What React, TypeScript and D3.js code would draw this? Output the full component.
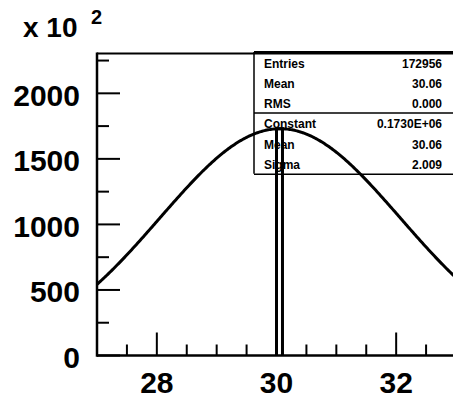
import React from "react";
import { scaleLinear, line, range } from "d3";

// histogram: one filled bin (units of x10^2 entries)
const binLow = [30.0];
const binHigh = [30.1];
const binCounts = [1729.56];

// gaussian fit parameters as printed in the stats box
const fitConstant = 1730; // 0.1730E+06 / 10^2
const fitMean = 30.06;
const fitSigma = 2.009;

const xMajorTicks = [28, 30, 32];
const xMinorTicks = [27.5, 28.5, 29, 29.5, 30.5, 31, 31.5, 32.5, 33];
const yMajorTicks = [0, 500, 1000, 1500, 2000];
const yMinorTicks = [250, 750, 1250, 1750, 2250];

const statsLabels = ["Entries", "Mean", "RMS", "Constant", "Mean", "Sigma"];
const statsValues = ["172956", "30.06", "0.000", "0.1730E+06", "30.06", "2.009"];

const FONT = "'Liberation Sans', Arial, Helvetica, sans-serif";

export default function App() {
  const W = 453;
  const H = 403;
  const LEFT = 97;
  const RIGHT = 456;
  const TOP = 54;
  const BOTTOM = 355.5;

  const x = scaleLinear().domain([27, 33]).range([LEFT, RIGHT]);
  const y = scaleLinear().domain([0, 2300]).range([BOTTOM, TOP]);

  const gauss = (v: number) =>
    fitConstant * Math.exp(-0.5 * Math.pow((v - fitMean) / fitSigma, 2));

  const curveX = range(27, 33.001, 0.02);
  const curve = line<number>()
    .x(d => x(d))
    .y(d => y(gauss(d)));

  const rowH = 20.3;
  const boxTop = 52;
  const boxLeft = 254;
  const boxRight = 456;

  return (
    <svg
      width={W}
      height={H}
      style={{ position: "fixed", left: 0, top: 0, background: "#fff" }}
      fontFamily={FONT}
      fontWeight="bold"
    >
      <defs>
        <clipPath id="plot">
          <rect x={LEFT} y={TOP} width={RIGHT - LEFT} height={BOTTOM - TOP} />
        </clipPath>
      </defs>
      <rect width={W} height={H} fill="#fff" />

      {/* histogram bins */}
      {binCounts.map((c, i) => (
        <path
          key={i}
          d={`M${x(binLow[i])},${y(0)}V${y(c)}H${x(binHigh[i])}V${y(0)}`}
          fill="none"
          stroke="#000"
          strokeWidth={3}
        />
      ))}

      {/* stats box */}
      <g>
        <line x1={boxLeft} x2={boxRight} y1={boxTop} y2={boxTop} stroke="#000" strokeWidth={2} />
        <line x1={boxLeft} x2={boxLeft} y1={boxTop} y2={boxTop + rowH * 6} stroke="#000" strokeWidth={1.5} />
        <line x1={boxLeft} x2={boxRight} y1={boxTop + rowH * 3} y2={boxTop + rowH * 3} stroke="#000" strokeWidth={1.5} />
        <line x1={boxLeft} x2={boxRight} y1={boxTop + rowH * 6 + 0.5} y2={boxTop + rowH * 6 + 0.5} stroke="#000" strokeWidth={1.5} />
        {statsLabels.map((s, i) => (
          <g key={i} fontSize={12}>
            <text x={264} y={boxTop + 15.5 + i * rowH}>{s}</text>
            <text x={442} y={boxTop + 15.5 + i * rowH} textAnchor="end">
              {statsValues[i]}
            </text>
          </g>
        ))}
      </g>

      {/* fit curve */}
      <path
        d={curve(curveX)!}
        fill="none"
        stroke="#000"
        strokeWidth={3}
        clipPath="url(#plot)"
      />

      {/* frame */}
      <line x1={LEFT} x2={RIGHT} y1={TOP - 0.5} y2={TOP - 0.5} stroke="#000" strokeWidth={2} />
      <line x1={LEFT} x2={LEFT} y1={TOP - 1.5} y2={BOTTOM + 1.25} stroke="#000" strokeWidth={2.5} />
      <line x1={LEFT} x2={RIGHT} y1={BOTTOM} y2={BOTTOM} stroke="#000" strokeWidth={2.5} />

      {/* y ticks */}
      {yMajorTicks.map(v => (
        <g key={v} transform={`translate(0,${y(v)})`}>
          <line x1={LEFT} x2={LEFT + 23} stroke="#000" strokeWidth={2} />
          <text x={80} y={12.5} textAnchor="end" fontSize={30}>
            {v}
          </text>
        </g>
      ))}
      {yMinorTicks.map(v => (
        <line key={v} x1={LEFT} x2={LEFT + 12} y1={y(v)} y2={y(v)} stroke="#000" strokeWidth={2} />
      ))}

      {/* x ticks */}
      {xMajorTicks.map(v => (
        <g key={v} transform={`translate(${x(v)},0)`}>
          <line y1={BOTTOM} y2={BOTTOM - 23} stroke="#000" strokeWidth={2} />
          <text y={BOTTOM + 37.5} textAnchor="middle" fontSize={30}>
            {v}
          </text>
        </g>
      ))}
      {xMinorTicks.map(v => (
        <line key={v} x1={x(v)} x2={x(v)} y1={BOTTOM} y2={BOTTOM - 11} stroke="#000" strokeWidth={2} />
      ))}

      {/* exponent */}
      <text x={23} y={37} fontSize={28}>
        x 10
      </text>
      <text x={91} y={24} fontSize={20}>
        2
      </text>
    </svg>
  );
}
